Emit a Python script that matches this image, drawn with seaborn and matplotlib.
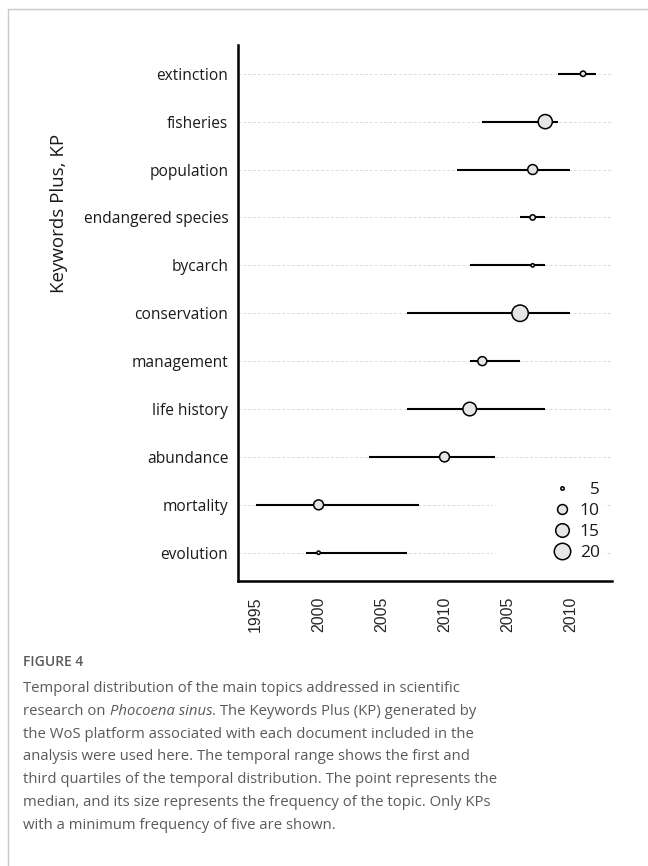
import numpy as np
import pandas as pd
import matplotlib
matplotlib.use("Agg")
import matplotlib.pyplot as plt
from matplotlib.patches import Rectangle
from matplotlib.lines import Line2D
import seaborn as sns

# Keywords Plus, bottom to top
keywords = ["evolution", "mortality", "abundance", "life history", "management",
            "conservation", "bycarch", "endangered species", "population",
            "fisheries", "extinction"]
q1 = [1999, 1995, 2004, 2007, 2012, 2007, 2012, 2016, 2011, 2013, 2019]
median = [2000, 2000, 2010, 2012, 2013, 2016, 2017, 2017, 2017, 2018, 2021]
q3 = [2007, 2008, 2014, 2018, 2016, 2020, 2018, 2018, 2020, 2019, 2022]
freq = [5, 10, 10, 15, 9, 20, 5, 6, 10, 16, 6]

tick_years = [1995, 2000, 2005, 2010, 2015, 2020]
tick_labels = ["1995", "2000", "2005", "2010", "2005", "2010"]
legend_sizes = [5, 10, 15, 20]

df = pd.DataFrame({"kp": keywords, "q1": q1, "median": median, "q3": q3, "freq": freq})
df["pos"] = np.arange(len(df))

sns.set_style("white")
plt.rcParams["font.family"] = ["Open Sans", "DejaVu Sans"]

fig = plt.figure(figsize=(6.48, 8.66), dpi=100)
ax = fig.add_axes([238 / 648, 1 - 581 / 866, 374 / 648, 536 / 866])

SIZES = (6, 140)
NORM = (5, 20)

# first-to-third quartile range
ax.hlines(df["pos"], df["q1"], df["q3"], color="black", lw=1.5, zorder=3)

# median, sized by frequency
sns.scatterplot(data=df, x="median", y="pos", size="freq", sizes=SIZES,
                size_norm=NORM, color="#e6e6e6", edgecolor="black",
                linewidth=1.1, legend=False, zorder=4, ax=ax)

ax.set_xlim(1993.6, 2023.3)
ax.set_ylim(-0.59, 10.6)
ax.set_xticks(tick_years)
ax.set_xticklabels(tick_labels, rotation=90, fontsize=11.5,
                   family=["Liberation Sans", "DejaVu Sans"])
ax.set_yticks(df["pos"])
ax.set_yticklabels(df["kp"], fontsize=11.2, color="#1a1a1a")
ax.tick_params(axis="x", length=4, width=1.2, pad=7, color="black")
ax.tick_params(axis="y", length=0, pad=7)

ax.grid(axis="y", linestyle=(0, (3, 2)), color="#dcdcdc", lw=0.7, zorder=0)
ax.grid(axis="x", visible=False)
ax.set_axisbelow(True)

for side in ["top", "right"]:
    ax.spines[side].set_visible(False)
for side in ["left", "bottom"]:
    ax.spines[side].set_color("black")
    ax.spines[side].set_linewidth(1.8)

ax.set_xlabel("")
ax.set_ylabel("Keywords Plus, KP", fontsize=13.5, color="#1a1a1a")
ax.yaxis.set_label_coords(-0.455, 0.685)

# size legend on a white panel
ax.add_patch(Rectangle((0.682, 0.03), 0.3, 0.16, transform=ax.transAxes,
                       facecolor="white", edgecolor="none", zorder=1))
lo, hi = SIZES
handles = []
for v in legend_sizes:
    s = lo + (v - NORM[0]) / (NORM[1] - NORM[0]) * (hi - lo)
    handles.append(Line2D([], [], linestyle="", marker="o", markersize=np.sqrt(s),
                          markerfacecolor="#e6e6e6", markeredgecolor="black",
                          markeredgewidth=1.1))
labels = [f"{v:>2}".replace(" ", "\u2007") for v in legend_sizes]
leg = ax.legend(handles, labels, loc="lower right",
                bbox_to_anchor=(1.0, 0.014), frameon=False, fontsize=12.5,
                handlelength=1.0, handletextpad=0.5, labelspacing=0.28,
                borderpad=0.2)
for t in leg.get_texts():
    t.set_color("#1a1a1a")

# card frame
fig.add_artist(Line2D([8 / 648, 8 / 648, 1.0], [0.0, 1 - 9 / 866, 1 - 9 / 866],
                      transform=fig.transFigure, color="#c8c8c8", lw=1.0))

# caption
grey = "#5a5a5a"
fig.text(23 / 648, 1 - 662 / 866, "FIGURE 4", fontsize=10, color=grey,
         fontweight="semibold", va="center", ha="left")
cap_kw = dict(fontsize=10.75, color=grey)
x0 = 23 / 648


def line_y(i):
    return 1 - (692 + i * 22.8) / 866


fig.text(x0, line_y(0), "Temporal distribution of the main topics addressed in scientific",
         va="baseline", **cap_kw)
t1 = fig.text(x0, line_y(1), "research on", va="baseline", **cap_kw)
t2 = ax.annotate("Phocoena sinus", xy=(1, 0), xycoords=t1, xytext=(3.0, 0),
                 textcoords="offset points", va="bottom", ha="left",
                 style="italic", annotation_clip=False, **cap_kw)
ax.annotate(". The Keywords Plus (KP) generated by", xy=(1, 0), xycoords=t2,
            va="bottom", ha="left", annotation_clip=False, **cap_kw)
rest = ["the WoS platform associated with each document included in the",
        "analysis were used here. The temporal range shows the first and",
        "third quartiles of the temporal distribution. The point represents the",
        "median, and its size represents the frequency of the topic. Only KPs",
        "with a minimum frequency of five are shown."]
for i, line in enumerate(rest, start=2):
    fig.text(x0, line_y(i), line, va="baseline", **cap_kw)

fig.savefig("out.png", dpi=100)
